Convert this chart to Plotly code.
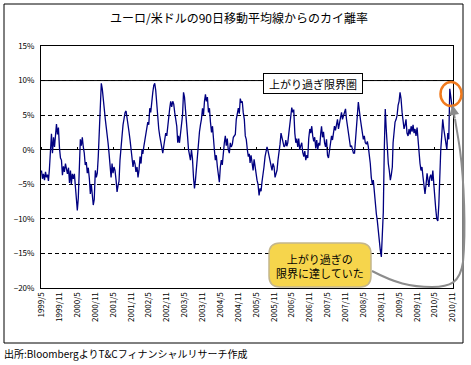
import plotly.graph_objects as go
from datetime import date

# ---------------- data ----------------
title_text = "ユーロ/米ドルの90日移動平均線からのカイ離率"
source_text = "出所:BloombergよりT&Cフィナンシャルリサーチ作成"
limit_label = "上がり過ぎ限界圏"
callout_text = "上がり過ぎの<br>限界に達していた"

start_year, start_month = 1999, 5
reading_days = [1, 11, 21]

# deviation from 90-day moving average (%), three readings per month from 1999/5
deviation = [
    -3.0, -4.2, -3.5,   -4.4, -3.2, -4.0,   -3.6, -4.5, -2.8,   1.0, 2.3, -0.5,
    1.8, 0.4, 2.6,      3.7, 2.2, 3.2,      0.2, -1.2, -1.5,    -3.7, -2.4, -3.2,
    -2.0, -2.8, -3.5,   -2.6, -4.8, -3.0,   -5.0, -3.5, -4.2,   -3.5, -5.2, -6.5,
    -8.8, -7.0, -4.0,   1.5, 0.6, 1.8,      0.4, -0.5, -2.2,    -1.8, -3.4, -2.6,
    -4.2, -6.4, -5.0,   -6.8, -8.0, -7.2,   -3.0, -4.0, -3.4,   -1.0, 3.5, 7.5,
    9.6, 8.8, 7.0,      5.6, 4.4, 3.2,      2.4, 1.0, -0.5,     -2.2, -4.0, -2.0,
    -3.4, -2.5, -3.0,   -4.4, -6.1, -5.2,   -4.6, -1.5, 0.8,    2.0, 3.6, 4.5,
    5.4, 5.6, 4.8,      3.4, 2.6, 1.5,      0.0, -1.0, -2.5,    -1.5, -2.0, -3.2,
    -2.5, -4.0, -3.0,   -1.0, -2.0, 0.0,    -0.6, 0.4, 1.4,     2.0, 3.0, 4.0,
    3.6, 6.0, 5.4,      7.4, 8.3, 9.3,      9.6, 8.6, 6.4,      4.2, 3.0, 2.0,
    1.0, 0.2, -0.5,     0.5, 1.6, 2.4,      2.0, 3.6, 5.4,      6.0, 7.0, 6.2,
    7.0, 6.6, 5.4,      4.6, 3.4, 1.0,      2.0, 1.0, 2.4,      3.4, 5.0, 8.3,
    7.6, 5.8, 4.4,      2.0, 0.0, -0.8,     -1.5, 0.0, -1.2,    -4.0, -5.6, -4.4,
    -2.5, 0.0, 2.0,     2.6, 3.6, 4.4,      6.0, 5.0, 7.0,      8.0, 7.0, 7.6,
    5.4, 6.0, 4.0,      2.5, 3.4, 1.0,      0.0, -1.5, -0.8,    -2.5, -3.8, -4.7,
    -2.5, -1.5, -2.2,   0.0, 1.0, 2.0,      0.6, 1.6, 0.0,      -0.5, 1.0, 0.4,
    0.8, 1.8, 2.0,      2.2, 4.4, 5.0,      6.0, 5.2, 7.4,      6.8, 7.0, 5.4,
    4.4, 2.0, 1.5,      0.0, -1.0, -0.6,    -1.9, -0.8, -2.0,   -3.0, -1.4, -2.6,
    -3.6, -4.4, -5.0,   -6.6, -5.6, -6.0,   -4.6, -3.0, -2.5,   -1.0, 0.0, 0.4,
    -0.2, -1.0, -1.4,   -2.4, -3.0, -2.0,   -2.5, -4.0, -3.4,   -3.0, -1.5, -0.5,
    0.8, 2.4, 1.8,      1.0, 0.4, 0.6,      1.4, 0.5, 1.0,      2.4, 3.4, 4.4,
    6.1, 5.4, 5.8,      2.4, 1.0, 1.6,      0.4, 1.6, 0.0,      0.6, 1.0, -0.4,
    -1.0, -0.2, -1.5,   -0.8, -1.2, 1.6,    3.0, 2.4, 3.4,      2.0, 1.2, 1.8,
    0.2, 1.4, 0.0,      1.0, 0.6, 2.4,      3.4, 1.8, 2.6,      1.0, 0.4, 1.5,
    -0.8, -1.2, 0.0,    1.0, 2.0, 1.4,      2.4, 3.4, 2.8,      3.6, 4.4, 3.0,
    4.0, 4.6, 5.4,      4.4, 5.0, 5.4,      5.9, 4.4, 3.4,      2.4, 1.0, 0.4,
    0.6, -0.2, -0.5,    -0.5, 2.0, 3.4,     5.0, 6.9, 6.0,      4.4, 3.4, 2.4,
    1.5, 2.0, 1.0,      0.8, 1.2, 0.4,      -0.5, -2.0, -4.0,   -5.0, -4.4, -6.4,
    -7.5, -9.3, -10.3,  -12.0, -13.2, -14.5, -15.5, -12.0, -9.0, 0.0, 5.9, 3.0,
    0.0, -2.0, -3.0,    -4.4, -3.6, -2.5,   1.0, 3.0, 4.0,      4.4, 5.0, 6.4,
    7.0, 8.3, 7.4,      5.4, 4.0, 3.0,      3.6, 4.4, 2.4,      2.0, 3.0, 2.2,
    3.4, 2.6, 3.6,      2.4, 3.0, 2.0,      3.2, 1.0, 0.0,      -2.0, -3.0, -2.5,
    -4.0, -5.0, -6.4,   -5.0, -3.4, -4.4,   -5.4, -4.0, -3.6,   -4.5, -3.0, -5.0,
    -7.4, -8.6, -10.0,  -10.3, -8.0, -3.0,  0.0, 2.0, 4.4,      3.0, 2.0, 1.0,
    0.0, 2.4, 1.5,      8.8, 7.8, 6.9,
    5.4,
]

x_tick_labels = [
    "1999/5", "1999/11", "2000/5", "2000/11", "2001/5", "2001/11",
    "2002/5", "2002/11", "2003/5", "2003/11", "2004/5", "2004/11",
    "2005/5", "2005/11", "2006/5", "2006/11", "2007/5", "2007/11",
    "2008/5", "2008/11", "2009/5", "2009/11", "2010/5", "2010/11",
]
y_ticks = [15, 10, 5, 0, -5, -10, -15, -20]
y_tick_labels = ["15%", "10%", "5%", "0%", "−5%", "−10%", "−15%", "−20%"]
limit_level = 10

# ---------------- build x dates ----------------
dates = []
for i in range(len(deviation)):
    m = i // 3
    mm = start_month - 1 + m
    dates.append(date(start_year + mm // 12, mm % 12 + 1, reading_days[i % 3]))

tick_dates = [date(int(s.split("/")[0]), int(s.split("/")[1]), 1) for s in x_tick_labels]
may_ticks = [d for d in tick_dates if d.month == 5]

# ---------------- layout geometry ----------------
W, H = 471, 365
L, R, T, B = 41, 18, 46, 77
PW, PH = W - L - R, H - T - B


def px(xp):
    return (xp - L) / PW


def py(yp):
    return (H - B - yp) / PH


FONT = "Noto Sans CJK JP, Noto Sans, sans-serif"
x_range = [date(1999, 4, 26), date(2010, 11, 3)]

fig = go.Figure()
fig.add_trace(go.Scatter(
    x=dates, y=deviation, mode="lines",
    line=dict(color="#000080", width=1.3),
    showlegend=False, hoverinfo="skip",
))
# invisible helper so the tick axis on the zero line is drawn
fig.add_trace(go.Scatter(
    x=[dates[0]], y=[0], xaxis="x2", mode="markers",
    marker=dict(opacity=0), showlegend=False, hoverinfo="skip",
))

fig.update_layout(
    width=W, height=H,
    margin=dict(l=L, r=R, t=T, b=B),
    paper_bgcolor="white", plot_bgcolor="white",
    font=dict(family=FONT, color="black"),
    xaxis=dict(
        type="date", range=x_range,
        tickvals=tick_dates, ticktext=x_tick_labels, tickangle=-90,
        tickfont=dict(size=8, family=FONT), ticks="",
        showgrid=False, zeroline=False,
        showline=True, linecolor="black", linewidth=1, mirror=True,
    ),
    xaxis2=dict(
        type="date", range=x_range, overlaying="x", anchor="free",
        position=(0 - (-20)) / 35,
        side="top", tickvals=may_ticks, ticks="outside", ticklen=3,
        tickcolor="black", showticklabels=False, showgrid=False,
        showline=False, zeroline=False,
    ),
    yaxis=dict(
        range=[-20, 15], tickvals=y_ticks, ticktext=y_tick_labels,
        tickfont=dict(size=8, family=FONT), ticks="",
        ticklabelstandoff=4,
        showgrid=True, gridcolor="black", gridwidth=1, griddash="4px,3px",
        zeroline=True, zerolinecolor="black", zerolinewidth=1.3,
        showline=True, linecolor="black", linewidth=1, mirror=True,
    ),
)

shapes = []
# outer frame
shapes.append(dict(type="rect", xref="paper", yref="paper",
                   x0=px(4), x1=px(463), y0=py(343), y1=py(4),
                   line=dict(color="black", width=1), layer="below"))
# solid limit line at 10%
shapes.append(dict(type="line", xref="paper", yref="y", x0=0, x1=1,
                   y0=limit_level, y1=limit_level,
                   line=dict(color="black", width=1), layer="below"))
# orange circle
shapes.append(dict(type="circle", xref="paper", yref="paper",
                   x0=px(440.5), x1=px(461.5), y0=py(106), y1=py(82),
                   line=dict(color="#F07A1E", width=2.5)))
# gray connector curve
pts = [(372, 271), (395, 283), (410, 287), (432, 287), (450, 287), (460, 283),
       (463, 262), (466, 230), (464, 180), (460, 150), (458, 136), (456, 126), (455, 119)]
cp = [(px(a), py(b)) for a, b in pts]
path = "M {:.4f},{:.4f}".format(*cp[0])
for k in range(1, len(cp), 3):
    path += " C {:.4f},{:.4f} {:.4f},{:.4f} {:.4f},{:.4f}".format(*cp[k], *cp[k + 1], *cp[k + 2])
shapes.append(dict(type="path", xref="paper", yref="paper", path=path,
                   line=dict(color="#8C8C8C", width=2)))
# rounded yellow callout box
xl, xr, yt, yb = px(269), px(371), py(243), py(287)
rx, ry = 11 / PW, 11 / PH
rr = (f"M {xl+rx},{yt} L {xr-rx},{yt} Q {xr},{yt} {xr},{yt-ry} "
      f"L {xr},{yb+ry} Q {xr},{yb} {xr-rx},{yb} L {xl+rx},{yb} "
      f"Q {xl},{yb} {xl},{yb+ry} L {xl},{yt-ry} Q {xl},{yt} {xl+rx},{yt} Z")
shapes.append(dict(type="path", xref="paper", yref="paper", path=rr,
                   fillcolor="#F6D54C", line=dict(color="#C4B68C", width=1.5)))
fig.update_layout(shapes=shapes)

annotations = [
    dict(text=title_text, xref="paper", yref="paper", x=px(238.5), y=py(18),
         xanchor="center", yanchor="middle", showarrow=False,
         font=dict(size=12, family=FONT, color="black")),
    dict(text=limit_label, xref="paper", yref="paper", x=px(313), y=py(83),
         xanchor="center", yanchor="middle",
         showarrow=False, font=dict(size=11, family=FONT, color="black"),
         bgcolor="white", bordercolor="black", borderwidth=1,
         width=96, height=17, align="center"),
    dict(text=callout_text, xref="paper", yref="paper", x=px(320), y=py(265.5),
         xanchor="center", yanchor="middle",
         showarrow=False, font=dict(size=11, family=FONT, color="black"),
         align="center"),
    dict(text="", xref="paper", yref="paper", x=px(452.5), y=py(105),
         ax=2.5, ay=15, showarrow=True, arrowhead=2, arrowsize=1,
         arrowwidth=2, arrowcolor="#8C8C8C"),
    dict(text=source_text, xref="paper", yref="paper", x=px(2), y=py(353),
         xanchor="left", yanchor="middle", showarrow=False,
         font=dict(size=10, family=FONT, color="black")),
]
fig.update_layout(annotations=annotations)

fig.write_html("out.html", config={"displayModeBar": False},
               post_script="document.body.style.margin='0';document.body.style.overflow='hidden';")
